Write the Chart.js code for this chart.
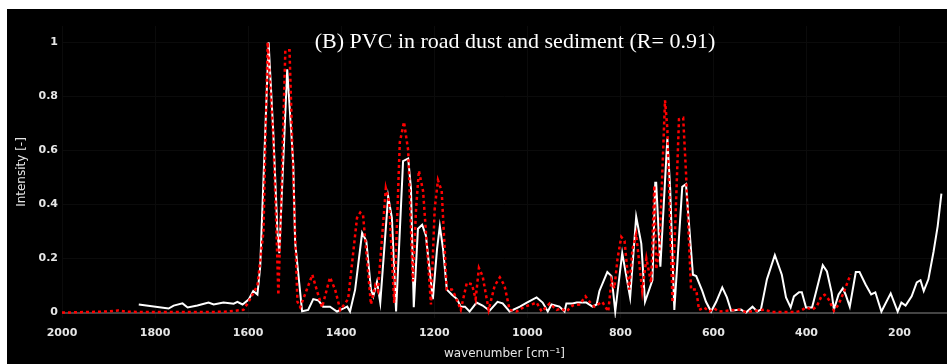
<!DOCTYPE html>
<html>
<head>
<meta charset="utf-8">
<script src="https://cdn.jsdelivr.net/npm/chart.js@4.4.1/dist/chart.umd.min.js"></script>
<style>
  html, body { margin: 0; padding: 0; background: #ffffff; }
  #wrap { position: absolute; left: 7px; top: 9px; width: 940px; height: 355px; background: #000000; }
</style>
</head>
<body>
<div id="wrap"><canvas id="ftirChart"></canvas></div>
<script>
// Tick labels
var xTicks = [2000, 1800, 1600, 1400, 1200, 1000, 800, 600, 400, 200];
var yTicks = [0, 0.2, 0.4, 0.6, 0.8, 1];

// Sample spectrum (white)
var sampleWn = [1835, 1771, 1760, 1741, 1730, 1709, 1685, 1674, 1653, 1631, 1623, 1612, 1599, 1589, 1580, 1574,
    1556, 1546, 1537, 1533, 1516, 1503, 1499, 1484, 1471, 1460, 1449, 1439, 1424, 1409, 1396, 1387, 1381,
    1370, 1355, 1346, 1336, 1331, 1323, 1316, 1299, 1291, 1282, 1267, 1256, 1250, 1244, 1235, 1226, 1218,
    1203, 1194, 1188, 1181, 1173, 1162, 1151, 1143, 1134, 1124, 1109, 1096, 1081, 1064, 1053, 1038, 1016,
    1001, 980, 967, 956, 948, 931, 920, 916, 903, 894, 884, 873, 860, 851, 845, 828, 819, 811, 796, 779,
    766, 755, 747, 731, 725, 723, 714, 699, 693, 684, 667, 659, 644, 637, 624, 616, 605, 594, 581, 571,
    562, 541, 530, 516, 506, 498, 485, 468, 453, 444, 434, 427, 416, 410, 401, 388, 378, 365, 356, 346,
    341, 331, 322, 316, 307, 294, 286, 273, 261, 252, 239, 219, 204, 196, 187, 174, 163, 155, 148, 138,
    127, 118, 110];
var sampleI = [0.030, 0.015, 0.026, 0.034, 0.019, 0.026, 0.037, 0.030, 0.037, 0.033, 0.040, 0.030, 0.048, 0.080, 0.067, 0.170,
    1.000, 0.670, 0.300, 0.220, 0.900, 0.550, 0.260, 0.005, 0.010, 0.050, 0.045, 0.022, 0.022, 0.004, 0.015, 0.022, 0.004,
    0.085, 0.295, 0.265, 0.086, 0.060, 0.115, 0.037, 0.430, 0.350, 0.004, 0.560, 0.570, 0.460, 0.020, 0.310, 0.325, 0.285,
    0.050, 0.235, 0.320, 0.235, 0.085, 0.066, 0.050, 0.022, 0.022, 0.004, 0.037, 0.026, 0.007, 0.040, 0.034, 0.004, 0.022,
    0.037, 0.056, 0.037, 0.004, 0.030, 0.022, 0.004, 0.034, 0.034, 0.037, 0.037, 0.037, 0.022, 0.030, 0.080, 0.150, 0.135, 0.004, 0.220, 0.056,
    0.355, 0.255, 0.040, 0.120, 0.480, 0.480, 0.170, 0.645, 0.460, 0.010, 0.465, 0.475, 0.140, 0.135, 0.080, 0.040, 0.004, 0.040, 0.093, 0.056,
    0.007, 0.011, 0.000, 0.022, 0.004, 0.011, 0.123, 0.213, 0.140, 0.056, 0.019, 0.060, 0.075, 0.075, 0.019, 0.019, 0.086, 0.175, 0.152, 0.075,
    0.011, 0.067, 0.090, 0.067, 0.022, 0.150, 0.150, 0.104, 0.067, 0.075, 0.004, 0.071, 0.004, 0.037, 0.026, 0.060, 0.112, 0.120, 0.080, 0.123,
    0.224, 0.320, 0.440];

// Reference PVC spectrum (red dotted)
var refWn = [2000, 1950, 1900, 1880, 1860, 1800, 1700, 1650, 1610, 1599, 1580, 1567, 1558, 1546, 1539, 1535, 1530,
    1520, 1511, 1503, 1494, 1488, 1475, 1462, 1451, 1441, 1424, 1413, 1402, 1385, 1366, 1359, 1353, 1336, 1327,
    1321, 1304, 1297, 1286, 1274, 1265, 1256, 1246, 1239, 1233, 1224, 1207, 1199, 1192, 1184, 1173, 1162, 1156,
    1143, 1130, 1119, 1111, 1104, 1096, 1083, 1070, 1059, 1049, 1038, 1023, 1006, 991, 980, 969, 952, 937, 927,
    916, 903, 888, 875, 866, 856, 839, 826, 819, 813, 806, 798, 791, 781, 774, 766, 753, 744, 734, 727, 723, 716,
    704, 699, 688, 674, 665, 659, 648, 637, 631, 620, 609, 598, 588, 545, 530, 491, 474, 423, 412, 401, 388, 378,
    368, 361, 352, 341, 331, 320, 305];
var refI = [0, 0.002, 0.004, 0.008, 0.003, 0.002, 0.002, 0.003, 0.010, 0.040, 0.100, 0.300, 1.000, 0.650, 0.300, 0.065, 0.350,
    0.970, 0.970, 0.500, 0.040, 0.020, 0.080, 0.140, 0.075, 0.020, 0.130, 0.085, 0.010, 0.050, 0.350, 0.370, 0.360, 0.030, 0.100,
    0.080, 0.460, 0.410, 0.036, 0.630, 0.705, 0.600, 0.115, 0.385, 0.525, 0.450, 0.030, 0.385, 0.490, 0.450, 0.085, 0.085, 0.066,
    0.010, 0.110, 0.105, 0.050, 0.165, 0.135, 0.010, 0.100, 0.130, 0.100, 0.010, 0.004, 0.022, 0.030, 0.037, 0.004, 0.034, 0.010, 0.015,
    0.004, 0.026, 0.030, 0.060, 0.040, 0.022, 0.040, 0.004, 0.120, 0.090, 0.200, 0.280, 0.265, 0.085, 0.235, 0.290, 0.080, 0.200, 0.110, 0.470, 0.160, 0.235,
    0.785, 0.680, 0.037, 0.715, 0.720, 0.520, 0.085, 0.085, 0.010, 0.019, 0.004, 0.015, 0.004, 0.011, 0.002, 0.011, 0.002, 0.002, 0.007, 0.019, 0.011, 0.022,
    0.060, 0.066, 0.048, 0.007, 0.030, 0.075, 0.142];

function toPoints(xs, ys) {
    return xs.map(function (x, i) { return { x: x, y: ys[i] }; });
}

var titleText = '(B) PVC in road dust and sediment (R= 0.91)';

var titlePlugin = {
    id: 'innerTitle',
    afterDraw: function (chart) {
        var c = chart.ctx;
        c.save();
        c.font = "22px 'Liberation Serif', 'Times New Roman', serif";
        c.fillStyle = '#ffffff';
        c.textAlign = 'center';
        c.textBaseline = 'middle';
        c.fillText(titleText, 508, 33);
        c.restore();
    }
};

var ctx = document.getElementById('ftirChart');

var ftirChart = new Chart(ctx, {
    type: 'line',
    data: {
        datasets: [
            {
                label: 'reference',
                data: toPoints(refWn, refI),
                borderColor: '#ff0000',
                borderWidth: 2.5,
                borderDash: [3, 3],
                pointRadius: 0,
                tension: 0,
                fill: false,
                order: 0
            },
            {
                label: 'sample',
                data: toPoints(sampleWn, sampleI),
                borderColor: '#ffffff',
                borderWidth: 2,
                pointRadius: 0,
                tension: 0,
                fill: false,
                order: 1
            }
        ]
    },
    options: {
        responsive: true,
        maintainAspectRatio: false,
        animation: false,
        layout: { padding: { top: 17, right: 0, left: 0, bottom: 0 } },
        plugins: {
            legend: { display: false },
            tooltip: { enabled: false }
        },
        scales: {
            x: {
                type: 'linear',
                reverse: true,
                min: 98,
                max: 2000,
                afterBuildTicks: function (scale) {
                    scale.ticks = xTicks.map(function (v) { return { value: v }; });
                },
                afterFit: function (scale) { scale.height = 46; },
                grid: { color: '#0b0b0b', drawTicks: false },
                border: { display: false },
                ticks: {
                    color: '#e6e6e6',
                    padding: 9,
                    maxRotation: 0,
                    callback: function (v) { return String(v); },
                    font: { family: 'DejaVu Sans', size: 11, weight: 'bold' }
                },
                title: {
                    display: true,
                    text: 'wavenumber [cm\u207B\u00B9]',
                    color: '#e6e6e6',
                    padding: { top: 2, bottom: 3 },
                    font: { family: 'DejaVu Sans', size: 12 }
                }
            },
            y: {
                min: -0.02,
                max: 1.06,
                afterBuildTicks: function (scale) {
                    scale.ticks = yTicks.map(function (v) { return { value: v }; });
                },
                afterFit: function (scale) { scale.width = 55; },
                grid: {
                    drawTicks: false,
                    color: function (c) { return c.tick && c.tick.value === 0 ? '#444444' : '#0b0b0b'; },
                    lineWidth: function (c) { return c.tick && c.tick.value === 0 ? 2 : 1; }
                },
                border: { display: false },
                ticks: {
                    color: '#e6e6e6',
                    padding: 4,
                    callback: function (v) { return String(v); },
                    font: { family: 'DejaVu Sans', size: 11, weight: 'bold' }
                },
                title: {
                    display: true,
                    text: 'Intensity [-]',
                    color: '#e6e6e6',
                    padding: { top: 8, bottom: 0 },
                    font: { family: 'DejaVu Sans', size: 12 }
                }
            }
        }
    },
    plugins: [titlePlugin]
});
</script>
</body>
</html>
